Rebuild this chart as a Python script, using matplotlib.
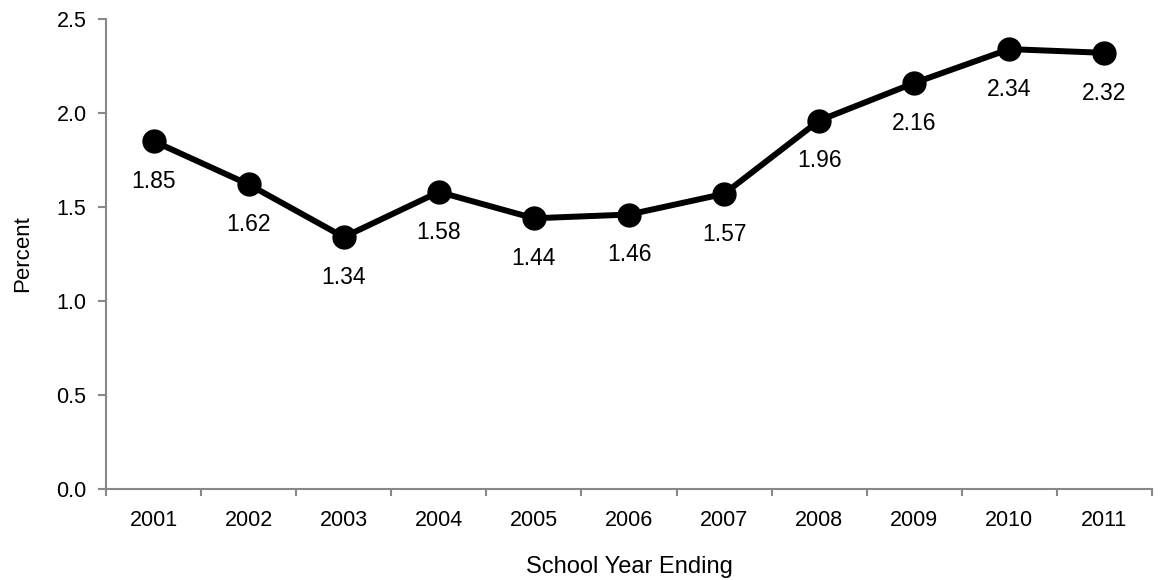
import matplotlib.pyplot as plt
import numpy as np

plt.rcParams['font.family'] = ['Liberation Sans', 'DejaVu Sans']

years = ['2001', '2002', '2003', '2004', '2005', '2006', '2007', '2008', '2009', '2010', '2011']
percent = [1.85, 1.62, 1.34, 1.58, 1.44, 1.46, 1.57, 1.96, 2.16, 2.34, 2.32]

fig = plt.figure(figsize=(11.64, 5.8), dpi=100)
ax = fig.add_axes([0.0911, 0.1569, 0.8986, 0.8103])

x = np.arange(len(years))
ax.plot(x, percent, color='black', linewidth=4.3, marker='o', markersize=16.5)

for xi, v in zip(x, percent):
    ax.annotate(f'{v:.2f}', (xi, v), xytext=(0, -29), textcoords='offset points',
                ha='center', va='center', fontsize=16.5)

ax.set_xlim(-0.5, len(years) - 0.5)
ax.set_ylim(0, 2.5)
ax.set_yticks(np.arange(0, 2.51, 0.5))
ax.set_yticklabels([f'{t:.1f}' for t in np.arange(0, 2.51, 0.5)])
ax.set_xticks(x)
ax.set_xticklabels(years)
ax.set_xticks(np.arange(-0.5, len(years)), minor=True)
ax.tick_params(axis='x', which='major', length=0, labelsize=15.5, pad=15)
ax.tick_params(axis='x', which='minor', length=5, width=1.5, color='#888888')
ax.tick_params(axis='y', length=6, width=1.5, labelsize=15.5, color='#888888', pad=8)

for s in ['top', 'right']:
    ax.spines[s].set_visible(False)
for s in ['left', 'bottom']:
    ax.spines[s].set_color('#888888')
    ax.spines[s].set_linewidth(1.5)

ax.set_ylabel('Percent', fontsize=16, labelpad=17)
ax.set_xlabel('School Year Ending', fontsize=17, labelpad=18)

fig.savefig('out.png', dpi=100)
